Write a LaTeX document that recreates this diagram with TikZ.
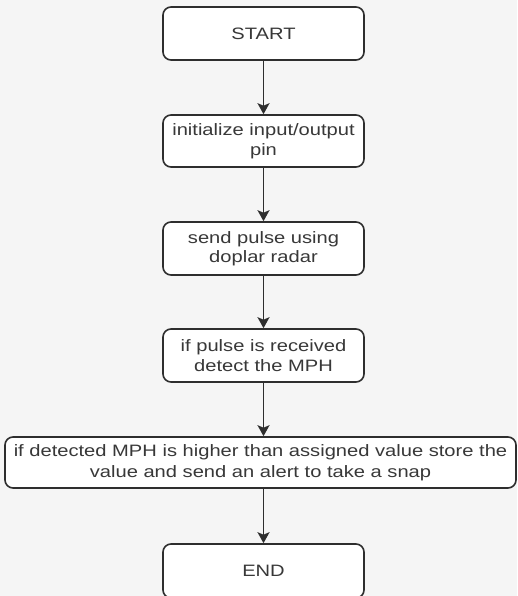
\documentclass[tikz,border=0pt]{standalone}
\usepackage{fontspec}
\setmainfont{Liberation Sans}[FakeStretch=1.22]
\usetikzlibrary{arrows.meta}
\definecolor{bg}{HTML}{F5F5F5}
\definecolor{ink}{HTML}{2E2E2E}
\definecolor{txt}{HTML}{383838}
\tikzset{
  stepbox/.style={draw=ink, line width=1.6pt, fill=white, rounded corners=8pt,
    minimum width=201pt, minimum height=53pt, align=center, inner sep=0pt,
    text=txt, font=\fontsize{16.5}{19.5}\selectfont},
  flow/.style={draw=ink, line width=1.6pt, -{Stealth[width=12pt,length=11pt,inset=2.5pt]}}
}
\begin{document}
\begin{tikzpicture}[x=1pt,y=-1pt]
\useasboundingbox (0,0) rectangle (517,596);
\fill[bg] (0,0) rectangle (517,596);
\node[stepbox] (start) at (263.5,33.5) {START};
\node[stepbox, minimum height=52pt] (init) at (263.5,141) {initialize input/output\\pin};
\node[stepbox] (send) at (263.5,248.5) {send pulse using\\doplar radar};
\node[stepbox] (detect) at (263.5,355.5) {if pulse is received\\detect the MPH};
\node[stepbox, minimum width=511pt, minimum height=51pt, font=\fontsize{16.5}{21}\selectfont] (store) at (260.5,462.5)
  {if detected MPH is higher than assigned value store the\\value and send an alert to take a snap};
\node[stepbox, minimum height=54pt] (end) at (263.5,571) {END};
\draw[flow] (start) -- (init);
\draw[flow] (init) -- (send);
\draw[flow] (send) -- (detect);
\draw[flow] (detect.south) -- (detect.south |- store.north);
\draw[flow] (end.north |- store.south) -- (end.north);
\end{tikzpicture}
\end{document}
